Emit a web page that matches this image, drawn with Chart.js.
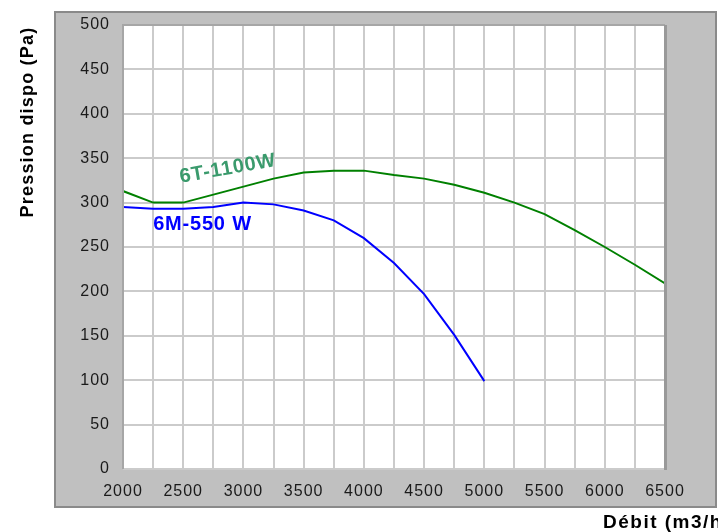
<!DOCTYPE html>
<html>
<head>
<meta charset="utf-8">
<script src="https://cdn.jsdelivr.net/npm/chart.js@4/dist/chart.umd.min.js"></script>
<style>
  html, body { margin: 0; padding: 0; background: #fff; }
  #wrap { width: 718px; height: 532px; }
</style>
</head>
<body>
<div id="wrap"><canvas id="fan-chart"></canvas></div>
<script>
// ============================ FAN CURVES ============================

const debits = [2000, 2250, 2500, 2750, 3000, 3250, 3500, 3750, 4000, 4250, 4500, 4750, 5000, 5250, 5500, 5750, 6000, 6250, 6500];
const pression6T = [313, 300, 300, 309, 318, 327, 334, 336, 336, 331, 327, 320, 311, 300, 287, 269, 250, 230, 209];
const pression6M = [295, 293, 293, 295, 300, 298, 291, 280, 260, 232, 197, 151, 99];
const label6T = '6T-1100W';
const label6M = '6M-550 W';
const yTitle = 'Pression dispo (Pa)';
const xTitle = 'Débit (m3/h)';

function toPoints(values){
    return values.map((v, i) => ({x: debits[i], y: v}));
}

// gray frame + white plot background, like the old excel chart
const framePlugin = {
    id: 'frame',
    beforeDraw(chart){
        const ctx = chart.ctx;
        const a = chart.chartArea;
        ctx.save();
        ctx.fillStyle = '#c0c0c0';
        ctx.fillRect(55, 12, 661, 495);
        ctx.strokeStyle = '#8a8a8a';
        ctx.lineWidth = 2;
        ctx.strokeRect(55, 12, 661, 495);
        ctx.fillStyle = '#ffffff';
        ctx.fillRect(a.left, a.top, a.right - a.left, a.bottom - a.top);
        ctx.restore();
        ctx.letterSpacing = '1px';
    },
    afterDraw(chart){
        const ctx = chart.ctx;
        const a = chart.chartArea;
        const xs = chart.scales.x;
        const ys = chart.scales.y;
        ctx.save();
        // plot border
        ctx.strokeStyle = '#a6a6a6';
        ctx.lineWidth = 2;
        ctx.beginPath();
        ctx.moveTo(a.left, a.bottom);
        ctx.lineTo(a.left, a.top);
        ctx.lineTo(a.right, a.top);
        ctx.stroke();
        ctx.strokeStyle = '#999999';
        ctx.lineWidth = 3;
        ctx.beginPath();
        ctx.moveTo(a.right + 0.5, a.top);
        ctx.lineTo(a.right + 0.5, a.bottom + 1);
        ctx.stroke();

        // axis titles
        ctx.fillStyle = '#000000';
        ctx.font = 'bold 18px "Liberation Sans", Arial, sans-serif';
        ctx.letterSpacing = '1.2px';
        ctx.textBaseline = 'middle';
        ctx.textAlign = 'center';
        ctx.save();
        ctx.translate(28, 122);
        ctx.rotate(-Math.PI / 2);
        ctx.fillText(yTitle, 0, 0);
        ctx.restore();
        ctx.font = 'bold 19px "Liberation Sans", Arial, sans-serif';
        ctx.letterSpacing = '1.5px';
        ctx.textAlign = 'left';
        ctx.textBaseline = 'alphabetic';
        ctx.fillText(xTitle, 603, 528);

        // curve labels
        ctx.font = 'bold 20px "Liberation Sans", Arial, sans-serif';
        ctx.letterSpacing = '0.8px';
        ctx.textAlign = 'center';
        ctx.textBaseline = 'middle';
        ctx.fillStyle = '#3a9a6c';
        ctx.save();
        ctx.translate(xs.getPixelForValue(2870), ys.getPixelForValue(338));
        ctx.rotate(-10 * Math.PI / 180);
        ctx.fillText(label6T, 0, 0);
        ctx.restore();
        ctx.fillStyle = '#0000ff';
        ctx.fillText(label6M, xs.getPixelForValue(2660), ys.getPixelForValue(275));
        ctx.restore();
    }
};

function makeFanChart(){
    const context = document.querySelector('#fan-chart').getContext('2d');
    const tickFont = {family: '"Liberation Sans", Arial, sans-serif', size: 16};
    const chartOptions = {
        responsive: true,
        maintainAspectRatio: false,
        animation: false,
        layout: {padding: {left: 0, top: 25, right: 53, bottom: 0}},
        scales: {
            x: {
                type: 'linear',
                min: 2000,
                max: 6500,
                afterFit: (scale) => { scale.height = 63; },
                border: {display: false},
                grid: {color: '#cbcbcb', lineWidth: 2, drawTicks: false},
                ticks: {
                    stepSize: 250,
                    autoSkip: false,
                    maxRotation: 0,
                    padding: 13,
                    color: '#1a1a1a',
                    font: tickFont,
                    callback: (v) => (v % 500 === 0 ? String(v) : '')
                }
            },
            y: {
                min: 0,
                max: 500,
                afterFit: (scale) => { scale.width = 123; },
                border: {display: false},
                grid: {color: '#cbcbcb', lineWidth: 2, drawTicks: false},
                ticks: {
                    stepSize: 50,
                    padding: 13,
                    color: '#1a1a1a',
                    font: tickFont
                }
            }
        },
        plugins: {
            legend: {display: false},
            tooltip: {enabled: false}
        }
    };
    const data = {
        datasets: [{
            label: label6T,
            data: toPoints(pression6T),
            borderColor: '#008000',
            borderWidth: 2,
            pointRadius: 0,
            fill: false,
            tension: 0
        },
        {
            label: label6M,
            data: toPoints(pression6M),
            borderColor: '#0000ff',
            borderWidth: 2,
            pointRadius: 0,
            fill: false,
            tension: 0
        }]
    };
    new Chart(context, {type: 'line', data: data, options: chartOptions, plugins: [framePlugin]});
}

makeFanChart();
</script>
</body>
</html>
